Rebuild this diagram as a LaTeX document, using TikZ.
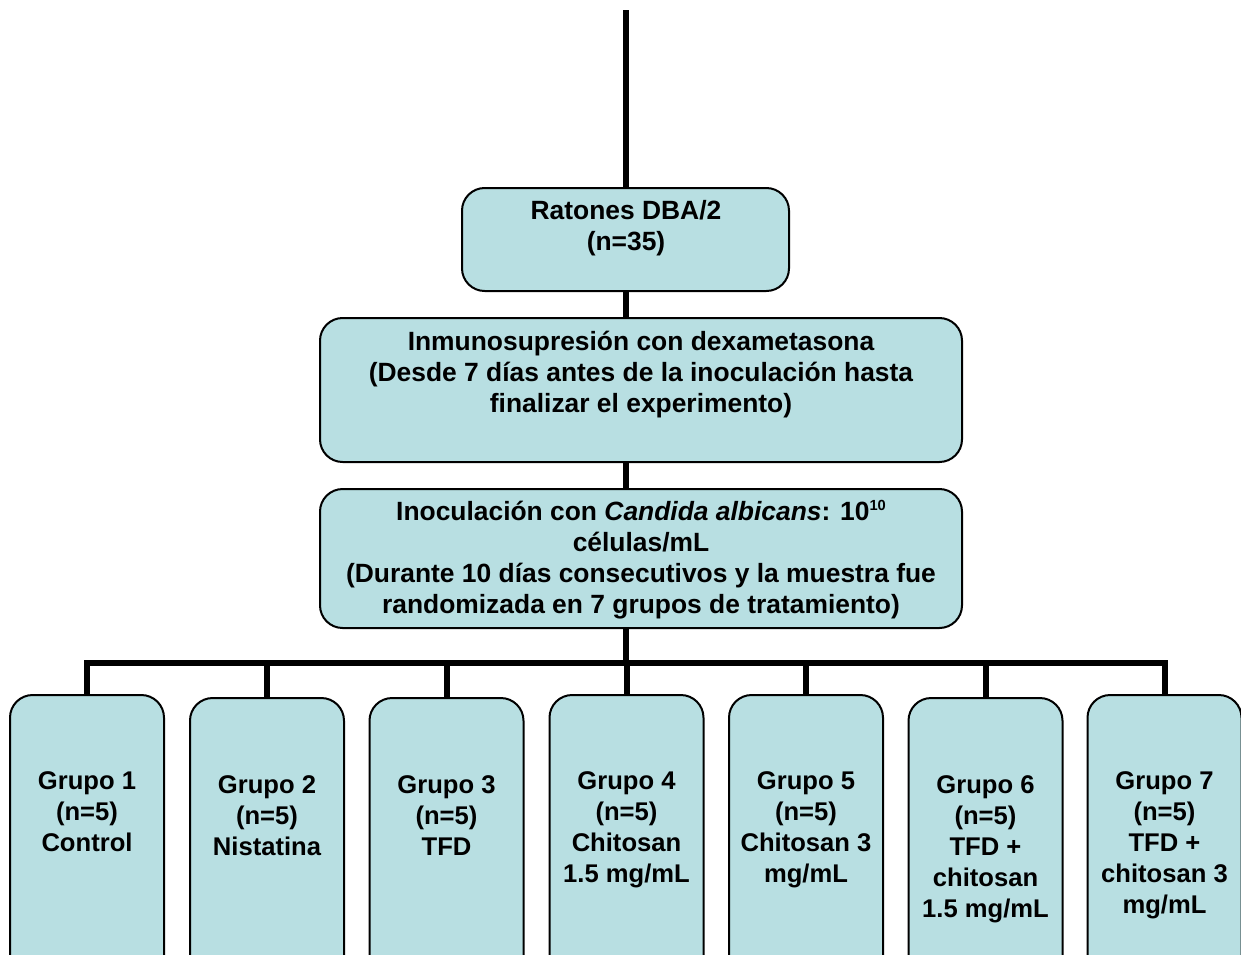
\documentclass[tikz,border=0pt]{standalone}
\usepackage{fontspec}
\setmainfont{Liberation Sans}
\definecolor{boxfill}{RGB}{184,223,226}
\tikzset{
  box/.style={draw=black, line width=1.5pt, fill=boxfill, rounded corners=17pt, inner sep=0pt},
  gbox/.style={box, anchor=north, minimum width=115.5pt, minimum height=225pt},
  txt/.style={anchor=north, align=center, inner sep=0pt, font=\bfseries\fontsize{19.8}{23.25}\selectfont},
  gtxt/.style={anchor=north, align=center, inner sep=0pt, font=\bfseries\fontsize{19.2}{23.25}\selectfont},
  conn/.style={draw=black, line width=4.5pt}
}
\begin{document}
\begin{tikzpicture}[x=0.75pt,y=-0.75pt]
\useasboundingbox (0,0) rectangle (1241,954);
\clip (0,0) rectangle (1241,954);
\fill[white] (0,0) rectangle (1241,954);
% top boxes
\node[box, minimum width=245.25pt, minimum height=77.25pt] (b1) at (625.5,239.5) {};
\node[box, minimum width=481.5pt, minimum height=108pt] (b2) at (641,390) {};
\node[box, minimum width=481.5pt, minimum height=104.25pt] (b3) at (641,558.5) {};
% group boxes
\node[gbox] (g1) at (87,694) {};
\node[gbox] (g2) at (267,697) {};
\node[gbox] (g3) at (446.5,697) {};
\node[gbox] (g4) at (626.5,694) {};
\node[gbox] (g5) at (806,694) {};
\node[gbox] (g6) at (985.5,697) {};
\node[gbox] (g7) at (1164.5,694) {};
% connectors
\coordinate (top) at (626,10);
\draw[conn] (top) -- (top |- b1.north);
\draw[conn] (b1.south -| top) -- (b2.north -| top);
\draw[conn] (b2.south -| top) -- (b3.north -| top);
\foreach \g in {g1,g2,g3,g4,g5,g6,g7}{
  \draw[conn] (b3.south -| top) -- ++(0,34) -| (\g.north);
}
% texts
\node[txt] (t1) at (626,197.5) {\strut Ratones DBA/2\\(n=35)};
\node[txt] (t2) at (641,328.5) {\strut Inmunosupresión con dexametasona\\(Desde 7 días antes de la inoculación hasta\\finalizar el experimento)};
\node[txt] (t3) at (641,499) {\strut Inoculación con \textit{Candida albicans}: 10\raisebox{7.5pt}{\fontsize{11}{11}\selectfont 10}\\células/mL\\(Durante 10 días consecutivos y la muestra fue\\randomizada en 7 grupos de tratamiento)};
\node[gtxt] (gt1) at (87,767.5) {\strut Grupo 1\\(n=5)\\Control};
\node[gtxt] (gt2) at (267,771.5) {\strut Grupo 2\\(n=5)\\Nistatina};
\node[gtxt] (gt3) at (446.5,771.5) {\strut Grupo 3\\(n=5)\\TFD};
\node[gtxt] (gt4) at (626.5,767.5) {\strut Grupo 4\\(n=5)\\Chitosan\\1.5 mg/mL};
\node[gtxt] (gt5) at (806,767.5) {\strut Grupo 5\\(n=5)\\Chitosan 3\\mg/mL};
\node[gtxt] (gt6) at (985.5,771.5) {\strut Grupo 6\\(n=5)\\TFD +\\chitosan\\1.5 mg/mL};
\node[gtxt] (gt7) at (1164.5,767.5) {\strut Grupo 7\\(n=5)\\TFD +\\chitosan 3\\mg/mL};
\end{tikzpicture}
\end{document}
